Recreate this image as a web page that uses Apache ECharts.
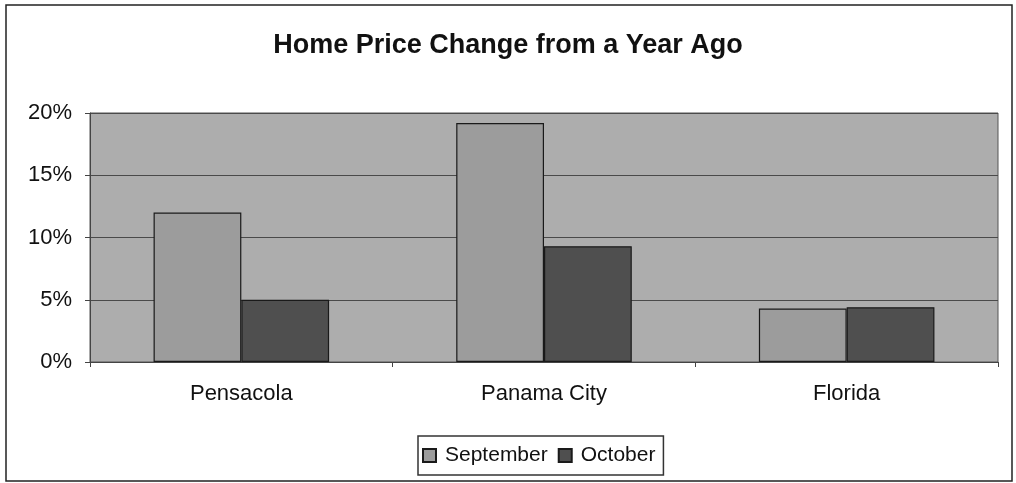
<!DOCTYPE html>
<html>
<head>
<meta charset="utf-8">
<script src="https://cdn.jsdelivr.net/npm/echarts@6/dist/echarts.min.js"></script>
<style>
    html, body { margin: 0; padding: 0; background: #fff; }
    #chart { width: 1016px; height: 483px; }
</style>
</head>
<body>
<div id="chart"></div>
<script>
// chart data
var categories = ["Pensacola", "Panama City", "Florida"];
var september = [12.0, 19.2, 4.3];
var october = [5.0, 9.3, 4.4];
var yTicks = [0, 5, 10, 15, 20];

var chart = echarts.init(document.getElementById("chart"));
var font = "Arial, 'Liberation Sans', sans-serif";

var option = {
    animation: false,
    backgroundColor: "#fff",
    title: {
        text: "Home Price Change from a Year Ago",
        left: "center",
        top: 27,
        textStyle: { fontFamily: font, fontSize: 27, fontWeight: "bold", color: "#111" }
    },
    graphic: [{
        type: "rect",
        shape: { x: 6, y: 5, width: 1006, height: 476 },
        style: { fill: null, stroke: "#222", lineWidth: 1.5 },
        z: -1
    }],
    legend: {
        data: ["September", "October"],
        icon: "rect",
        bottom: 8,
        left: 418,
        itemWidth: 13,
        itemHeight: 13,
        itemGap: 10,
        padding: [9, 8, 9, 4],
        borderColor: "#333",
        borderWidth: 1.5,
        textStyle: { fontFamily: font, fontSize: 21, color: "#111", padding: [0, 0, 0, 4] }
    },
    grid: {
        left: 90, right: 18, top: 113, bottom: 121,
        show: true,
        backgroundColor: "#adadad",
        borderColor: "#555",
        borderWidth: 1
    },
    xAxis: {
        type: "category",
        data: categories,
        axisLine: { lineStyle: { color: "#444" } },
        axisTick: { show: true, length: 5, lineStyle: { color: "#444" } },
        axisLabel: { fontFamily: font, fontSize: 22, color: "#111", margin: 21 }
    },
    yAxis: {
        type: "value",
        min: yTicks[0],
        max: yTicks[yTicks.length - 1],
        interval: 5,
        axisLine: { show: true, lineStyle: { color: "#444" } },
        axisTick: { show: true, length: 5, lineStyle: { color: "#444" } },
        axisLabel: { fontFamily: font, fontSize: 22, color: "#111", margin: 18, formatter: "{value}%" },
        splitLine: { lineStyle: { color: "#4a4a4a", width: 1 } }
    },
    series: [{
        name: "September",
        type: "bar",
        data: september,
        barGap: "0%",
        barCategoryGap: "42%",
        itemStyle: { color: "#9c9c9c", borderColor: "#1a1a1a", borderWidth: 1.2 }
    }, {
        name: "October",
        type: "bar",
        data: october,
        itemStyle: { color: "#4f4f4f", borderColor: "#1a1a1a", borderWidth: 1.2 }
    }]
};
chart.setOption(option);
</script>
</body>
</html>
